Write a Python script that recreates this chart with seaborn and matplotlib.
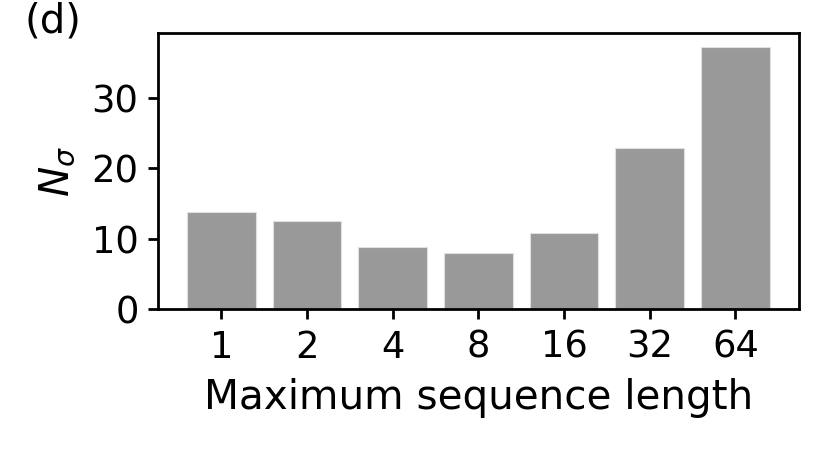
import matplotlib
matplotlib.use("Agg")
import matplotlib.pyplot as plt
import seaborn as sns
import pandas as pd

sns.set_theme(style="ticks")
plt.rcParams["font.family"] = ["DejaVu Sans"]
plt.rcParams["axes.edgecolor"] = "black"
plt.rcParams["xtick.color"] = "black"
plt.rcParams["ytick.color"] = "black"

comprimentos = ["1", "2", "4", "8", "16", "32", "64"]
n_sigma = [13.8, 12.6, 8.8, 8.0, 10.9, 22.9, 37.3]

df = pd.DataFrame({"comprimento": comprimentos, "n_sigma": n_sigma})

fig = plt.figure(figsize=(4.16, 2.25), dpi=200)
ax = fig.add_axes([0.19, 0.3127, 0.77, 0.6133])

sns.barplot(data=df, x="comprimento", y="n_sigma", order=comprimentos,
            color="#999999", saturation=1, width=0.8,
            edgecolor="#e0e0e0", linewidth=0.4, ax=ax)

ax.set_xlim(-0.74, 6.74)
ax.set_ylim(0, 39.2)
ax.set_yticks([0, 10, 20, 30])
ax.tick_params(labelsize=13.3, width=1.0, length=3.5, color="black")
for s in ax.spines.values():
    s.set_linewidth(1.0)
    s.set_color("black")
ax.set_xlabel("Maximum sequence length", fontsize=14.6, color="black", labelpad=4.5)
ax.set_ylabel(r"$N_\sigma$", fontsize=14.6, color="black", labelpad=5)

fig.text(0.03, 0.997, "(d)", fontsize=14.5, va="top", ha="left", color="black")

fig.savefig("out.png", dpi=200)
